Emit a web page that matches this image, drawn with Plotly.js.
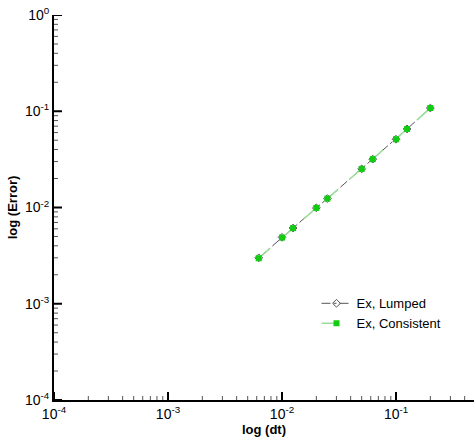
<!DOCTYPE html>
<html>
<head>
<meta charset="utf-8">
<script src="https://cdn.plot.ly/plotly-3.0.1.min.js"></script>
<style>html,body{margin:0;padding:0;background:#fff;}#chart{width:474px;height:439px;}</style>
</head>
<body>
<div id="chart"></div>
<script>
const dt = [0.00625, 0.01, 0.0125, 0.02, 0.025, 0.05, 0.0625, 0.1, 0.125, 0.2];
const errLumped = [0.00300, 0.00490, 0.00612, 0.00992, 0.01238, 0.0252, 0.0318, 0.0512, 0.0655, 0.108];
const errConsistent = [0.00297, 0.00487, 0.0061, 0.0099, 0.01237, 0.0252, 0.0318, 0.0512, 0.0655, 0.108];
const seriesNames = ["Ex, Lumped", "Ex, Consistent"];
const xTickVals = [1e-4, 1e-3, 1e-2, 1e-1];
const xTickText = ["10<sup>-4</sup>", "10<sup>-3</sup>", "10<sup>-2</sup>", "10<sup>-1</sup>"];
const yTickVals = [1e-4, 1e-3, 1e-2, 1e-1, 1];
const yTickText = ["10<sup>-4</sup>", "10<sup>-3</sup>", "10<sup>-2</sup>", "10<sup>-1</sup>", "10<sup>0</sup>"];

function minorVals(decades) {
  const out = [];
  decades.forEach(d => { for (let k = 2; k <= 9; k++) out.push(k * d); });
  return out;
}
const decades = [1e-4, 1e-3, 1e-2, 1e-1];
const XR = [-4, -0.316], YR = [-4, 0];
const W = 474, H = 439, M = {l: 54, r: 0, t: 15, b: 39};
const PW = W - M.l - M.r, PH = H - M.t - M.b;

// inward tick marks drawn as short line segments on the axes
function xTickTrace(vals, len, w, color) {
  const xs = [], ys = [];
  const y0 = Math.pow(10, YR[0]), y1 = Math.pow(10, YR[0] + len * (YR[1] - YR[0]) / PH);
  vals.forEach(v => { xs.push(v, v, null); ys.push(y0, y1, null); });
  return {x: xs, y: ys, type: 'scatter', mode: 'lines', line: {color: color, width: w},
          showlegend: false, hoverinfo: 'skip'};
}
function yTickTrace(vals, len, w, color) {
  const xs = [], ys = [];
  const x0 = Math.pow(10, XR[0]), x1 = Math.pow(10, XR[0] + len * (XR[1] - XR[0]) / PW);
  vals.forEach(v => { xs.push(x0, x1, null); ys.push(v, v, null); });
  return {x: xs, y: ys, type: 'scatter', mode: 'lines', line: {color: color, width: w},
          showlegend: false, hoverinfo: 'skip'};
}
const xMinor = minorVals(decades).filter(v => Math.log10(v) <= XR[1]);
const yMinor = minorVals(decades);

const traces = [
  xTickTrace(xMinor, 4, 1, '#555'),
  yTickTrace(yMinor, 4, 1, '#555'),
  xTickTrace(xTickVals, 8, 2, '#000'),
  yTickTrace(yTickVals, 8, 2, '#000'),
  {
    x: dt, y: errLumped, name: seriesNames[0], type: 'scatter', mode: 'lines+markers',
    line: {color: '#555555', width: 1, dash: 'dashdot'},
    marker: {symbol: 'diamond-open', size: 6, color: '#555555', line: {width: 1}}
  },
  {
    x: dt, y: errConsistent, name: seriesNames[1], type: 'scatter', mode: 'lines+markers',
    line: {color: '#99dd99', width: 1.5, dash: 'longdash'},
    marker: {symbol: 'square', size: 6, color: '#11cc11'}
  }
];

const FONT = 'Liberation Sans, Arial, sans-serif';
const mainAxis = {
  type: 'log', showgrid: false, zeroline: false,
  showline: true, linecolor: '#000', linewidth: 2,
  ticks: '', tickmode: 'array', showticklabels: true,
  tickfont: {family: FONT, size: 14, color: '#000'}
};

const layout = {
  width: W, height: H,
  margin: M,
  paper_bgcolor: '#fff', plot_bgcolor: '#fff',
  showlegend: true,
  legend: {x: 0.625, y: 0.29, xanchor: 'left', yanchor: 'top', bgcolor: 'rgba(0,0,0,0)',
           font: {family: FONT, size: 13, color: '#000'}, tracegroupgap: 0},
  xaxis: Object.assign({}, mainAxis, {
    range: XR, tickvals: xTickVals, ticktext: xTickText,
    title: {text: '<b>log (dt)</b>', standoff: 0, font: {family: FONT, size: 13, color: '#000'}}
  }),
  yaxis: Object.assign({}, mainAxis, {
    range: YR, tickvals: yTickVals, ticktext: yTickText,
    title: {text: '<b>log (Error)</b>', standoff: 4, font: {family: FONT, size: 13, color: '#000'}}
  })
};

Plotly.newPlot('chart', traces, layout, {displayModeBar: false, staticPlot: true});
</script>
</body>
</html>
